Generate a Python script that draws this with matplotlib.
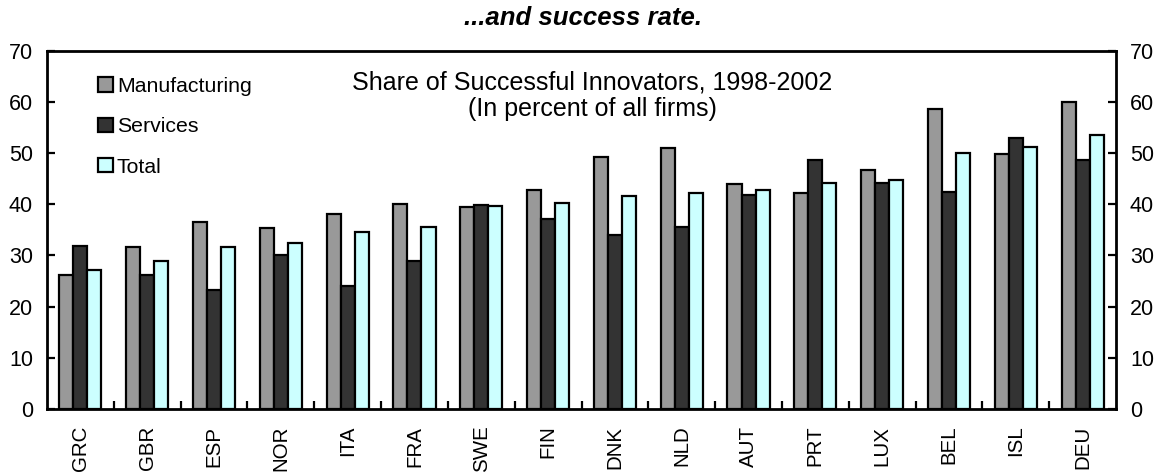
import numpy as np
import matplotlib
matplotlib.use("Agg")
import matplotlib.pyplot as plt
from matplotlib.patches import Patch

plt.rcParams['font.family'] = ['Liberation Sans', 'DejaVu Sans']

countries = ["GRC", "GBR", "ESP", "NOR", "ITA", "FRA", "SWE", "FIN",
             "DNK", "NLD", "AUT", "PRT", "LUX", "BEL", "ISL", "DEU"]
manufacturing = [26.2, 31.7, 36.6, 35.3, 38.1, 40.1, 39.4, 42.8,
                 49.3, 50.9, 43.9, 42.2, 46.7, 58.6, 49.8, 59.9]
services = [31.8, 26.1, 23.2, 30.1, 24.1, 29.0, 39.8, 37.2,
            34.0, 35.6, 41.9, 48.7, 44.1, 42.4, 52.9, 48.7]
total = [27.2, 29.0, 31.6, 32.5, 34.5, 35.6, 39.6, 40.3,
         41.6, 42.2, 42.8, 44.2, 44.8, 50.0, 51.2, 53.5]

series = [("Manufacturing", manufacturing, "#999999"),
          ("Services", services, "#333333"),
          ("Total", total, "#CCFFFF")]

fig = plt.figure(figsize=(11.66, 4.76), dpi=100)
ax = fig.add_axes([47 / 1166, 1 - 409 / 476, (1116 - 47) / 1166, (409 - 50.7) / 476])

x = np.arange(len(countries))
w = 0.21
for i, (name, vals, col) in enumerate(series):
    ax.bar(x + (i - 1) * w, vals, width=w, color=col, edgecolor="black",
           linewidth=1.6, label=name, zorder=2)

ax.set_xlim(-0.5, len(countries) - 0.5)
ax.set_ylim(0, 70)
ax.set_yticks(range(0, 71, 10))

# category separators drawn as short inward ticks
ax.set_xticks(np.arange(0.5, len(countries) - 1, 1.0))
ax.set_xticklabels([])
ax.tick_params(axis="x", direction="in", length=6, width=1.6)
ax.set_xticks(x, minor=True)
ax.set_xticklabels(countries, minor=True, rotation=90, fontsize=14.8)
ax.tick_params(axis="x", which="minor", length=0, pad=12)

ax.tick_params(axis="y", direction="in", length=6, width=1.6, labelsize=15.5,
               left=True, right=True, labelleft=True, labelright=True, pad=10)
for s in ax.spines.values():
    s.set_linewidth(2)

ax.text(0.51, 0.945, "Share of Successful Innovators, 1998-2002\n(In percent of all firms)",
        transform=ax.transAxes, ha="center", va="top", fontsize=18, linespacing=1.12)

handles = [Patch(facecolor=c, edgecolor="black", linewidth=1.6, label=n)
           for n, _, c in series]
ax.legend(handles=handles, loc="upper left", bbox_to_anchor=(0.04, 0.95),
          frameon=False, fontsize=15.3, handlelength=0.68, handleheight=0.68,
          handletextpad=0.2, labelspacing=1.0, borderaxespad=0)

fig.text(0.5, 1 - 18 / 476, "...and success rate.", ha="center", va="center",
         fontsize=18.5, fontweight="bold", fontstyle="italic")

fig.savefig("out.png", dpi=100)
